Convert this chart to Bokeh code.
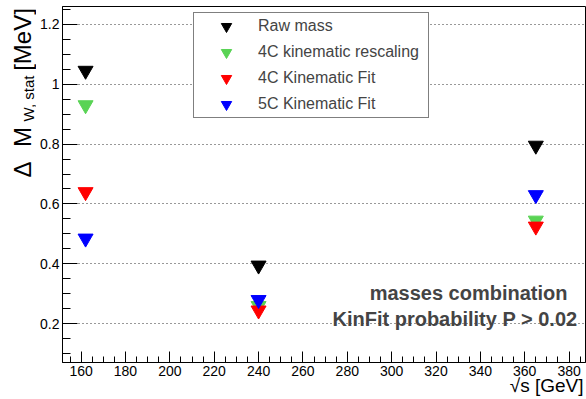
import math
from bokeh.plotting import figure
from bokeh.layouts import row
from bokeh.models import (FixedTicker, Legend, LegendItem, Label, ColumnDataSource,
                          Range1d, Title)
from bokeh.embed import file_html
from bokeh.resources import INLINE

# ---- data ----
sqrt_s = [162, 240, 365]
raw_mass = [1.045, 0.395, 0.795]
kin_rescaling_4c = [0.93, 0.26, 0.545]
kin_fit_4c = [0.64, 0.245, 0.525]
kin_fit_5c = [0.485, 0.28, 0.63]

series_labels = ["Raw mass", "4C kinematic rescaling", "4C Kinematic Fit", "5C Kinematic Fit"]
series_values = [raw_mass, kin_rescaling_4c, kin_fit_4c, kin_fit_5c]
series_colors = ["#000000", "#59d354", "#ff0000", "#0000ff"]

x_major = [160, 180, 200, 220, 240, 260, 280, 300, 320, 340, 360, 380]
x_minor = list(range(155, 390, 5))
y_major = [0.2, 0.4, 0.6, 0.8, 1.0, 1.2]
y_minor = [0.1, 0.15, 0.2, 0.25, 0.3, 0.35, 0.4, 0.45, 0.5, 0.55, 0.6, 0.65,
           0.7, 0.75, 0.8, 0.85, 0.9, 0.95, 1.0, 1.05, 1.1, 1.15, 1.2, 1.25]

FONT = "Liberation Sans"
X0, X1 = 151.6, 387.4
Y0, Y1 = 0.071, 1.259
STRIP_W = 36
H = 399
TOP, BOTTOM = 6, 37

# ---- narrow strip holding the y-axis title (with subscript) ----
# its frame spans the same rows as the main frame; y data = H - pixel row
ys = figure(width=STRIP_W, height=H, output_backend="svg", toolbar_location=None,
            x_range=Range1d(0, STRIP_W), y_range=Range1d(BOTTOM, H - TOP),
            x_axis_type=None, y_axis_type=None,
            min_border_left=0, min_border_right=0, min_border_top=TOP,
            min_border_bottom=BOTTOM)
ys.outline_line_color = None
ys.grid.visible = False
ys.background_fill_color = "white"
ys.border_fill_color = "white"
rot = math.pi / 2
# (text, centre x px, centre y px from top, font size)
title_parts = [("Δ", 21.7, 169, "24px"), ("M", 21.7, 136.5, "24px"),
               ("W, stat", 27.8, 98, "15px"), ("[MeV]", 21.7, 39, "24px")]
for txt, cx, cy, fs in title_parts:
    ys.add_layout(Label(x=cx, y=H - cy, text=txt, angle=rot, text_align="center",
                        text_baseline="middle", text_font=FONT,
                        text_font_size=fs, text_color="black"))

# ---- main plot ----
p = figure(width=586 - STRIP_W, height=H, output_backend="svg", toolbar_location=None,
           x_range=(X0, X1), y_range=(Y0, Y1),
           min_border_left=62 - STRIP_W, min_border_right=1, min_border_top=TOP,
           min_border_bottom=BOTTOM)
p.background_fill_color = "white"
p.border_fill_color = "white"
p.outline_line_color = "black"
p.outline_line_width = 1

p.xaxis.ticker = FixedTicker(ticks=x_major, minor_ticks=x_minor)
p.yaxis.ticker = FixedTicker(ticks=y_major, minor_ticks=y_minor)
p.yaxis.major_label_overrides = {1.0: "1"}
for ax in (p.xaxis[0], p.yaxis[0]):
    ax.axis_line_color = "black"
    ax.axis_line_width = 1
    ax.major_tick_out = 0
    ax.minor_tick_out = 0
    ax.major_tick_line_color = "black"
    ax.minor_tick_line_color = "black"
    ax.major_label_text_font = FONT
    ax.major_label_text_font_size = "14px"
    ax.major_label_text_color = "black"
    ax.major_label_standoff = 3
p.yaxis.major_tick_in = 15
p.yaxis.minor_tick_in = 8
p.xaxis.major_tick_in = 11
p.xaxis.minor_tick_in = 6

# x axis title, right aligned, as a title in the bottom panel
xt = Title(text="√s [GeV]", align="right", vertical_align="middle",
           text_font=FONT, text_font_size="19px",
           text_font_style="normal", text_color="black", offset=2)
try:
    xt.standoff = -9
except Exception:
    xt.standoff = 0
p.add_layout(xt, "below")

p.xgrid.grid_line_color = None
p.ygrid.grid_line_color = "#333333"
p.ygrid.grid_line_dash = "1 3"
p.ygrid.grid_line_width = 1

items = []
for lab, vals, col in zip(series_labels, series_values, series_colors):
    src = ColumnDataSource(dict(x=sqrt_s, y=vals))
    r = p.scatter("x", "y", source=src, marker="inverted_triangle", size=15,
                  fill_color=col, line_color=col)
    items.append(LegendItem(label=lab, renderers=[r]))

legend = Legend(items=items, location=(131, 244), orientation="vertical",
                padding=0, spacing=0, glyph_height=26, glyph_width=64,
                label_standoff=0, label_width=170, label_height=20,
                label_text_font=FONT, label_text_font_size="16px",
                border_line_color="black", border_line_width=1,
                background_fill_color="white", background_fill_alpha=1.0,
                margin=0)
p.add_layout(legend, "center")

# in-frame annotations (screen units relative to the frame, text middle line)
p.add_layout(Label(x=505, y=70, x_units="screen", y_units="screen",
                   text="masses combination", text_align="right",
                   text_baseline="middle", text_font=FONT,
                   text_font_style="bold", text_font_size="20px"))
p.add_layout(Label(x=515, y=44, x_units="screen", y_units="screen",
                   text="KinFit probability P > 0.02", text_align="right",
                   text_baseline="middle", text_font=FONT,
                   text_font_style="bold", text_font_size="20px"))

layout = row(ys, p, spacing=0)
open("out.html", "w").write(file_html(layout, INLINE))
